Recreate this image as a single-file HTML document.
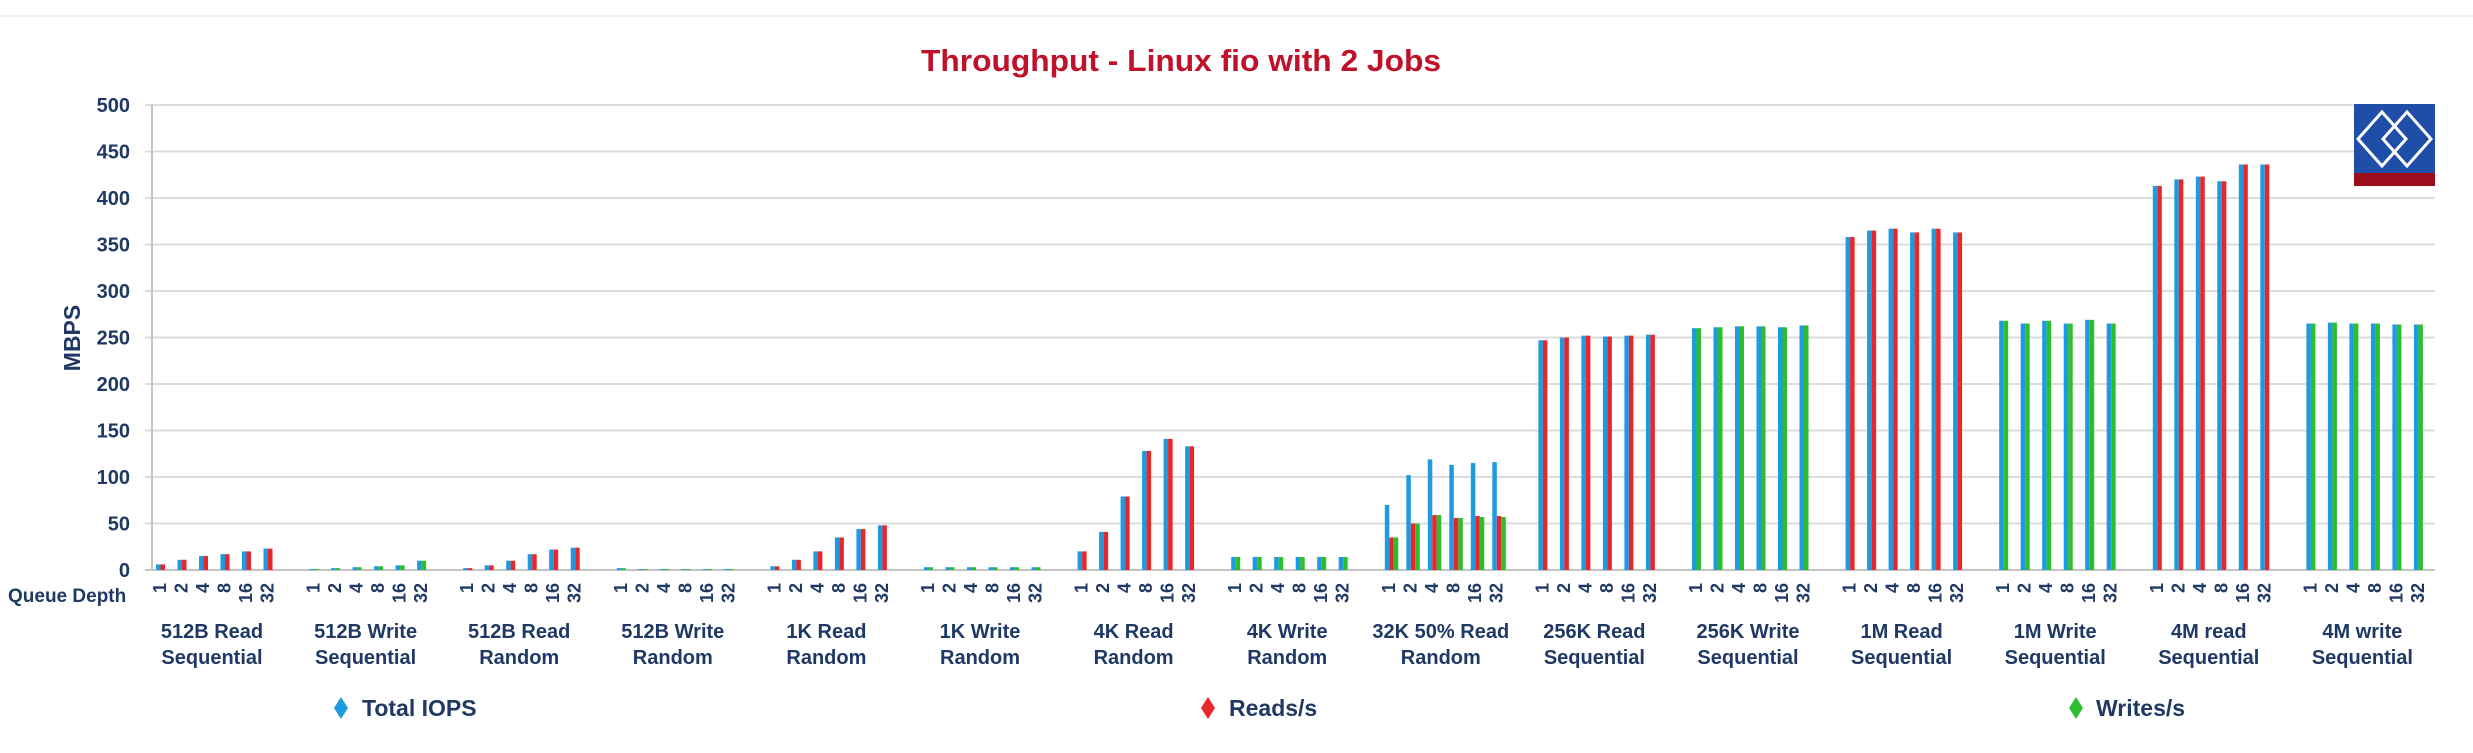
<!DOCTYPE html>
<html><head><meta charset="utf-8"><style>
html,body{margin:0;padding:0;background:#fff;}
svg text{font-family:"Liberation Sans",sans-serif;font-weight:bold;fill:#1f3864;}
</style></head><body>
<svg id="chart" width="2473" height="748" xmlns="http://www.w3.org/2000/svg">
<rect x="0" y="0" width="2473" height="748" fill="#fff"/>
<line x1="0" y1="16" x2="2473" y2="16" stroke="#f0f0f0" stroke-width="2"/>
<text x="1181" y="71" text-anchor="middle" font-size="31" style="fill:#c0102a" textLength="520" lengthAdjust="spacingAndGlyphs">Throughput - Linux fio with 2 Jobs</text>
<text transform="translate(80,338) rotate(-90)" text-anchor="middle" font-size="23">MBPS</text>
<g id="grid"></g>
<g id="bars"></g>
<g id="labels"></g>
<g>
<rect x="2354" y="104" width="81" height="70" fill="#1f4ea8"/>
<rect x="2354" y="173" width="81" height="13" fill="#9b0d1a"/>
<path d="M2382 112 L2406 139 L2382 166 L2358 139 Z M2407 112 L2431 139 L2407 166 L2383 139 Z" fill="none" stroke="#fff" stroke-width="3"/>
</g>
<g>
<g><path d="M341 697 L348 708 L341 719 L334 708 Z" fill="#1e9be0"/><text x="362" y="716" font-size="23">Total IOPS</text></g>
<g><path d="M1208 697 L1215 708 L1208 719 L1201 708 Z" fill="#e8262b"/><text x="1229" y="716" font-size="23">Reads/s</text></g>
<g><path d="M2076 697 L2083 708 L2076 719 L2069 708 Z" fill="#2dbe2d"/><text x="2096" y="716" font-size="23">Writes/s</text></g>
</g>
</svg>
<script>
const categories=[["512B Read","Sequential"],["512B Write","Sequential"],["512B Read","Random"],["512B Write","Random"],["1K Read","Random"],["1K Write","Random"],["4K Read","Random"],["4K Write","Random"],["32K 50% Read","Random"],["256K Read","Sequential"],["256K Write","Sequential"],["1M Read","Sequential"],["1M Write","Sequential"],["4M read","Sequential"],["4M write","Sequential"]];
const queueDepths=["1","2","4","8","16","32"];
const totalIops=[[6,11,15,17,20,23],[1,2,3,4,5,10],[2,5,10,17,22,24],[2,1,1,1,1,1],[4,11,20,35,44,48],[3,3,3,3,3,3],[20,41,79,128,141,133],[14,14,14,14,14,14],[70,102,119,113,115,116],[247,250,252,251,252,253],[260,261,262,262,261,263],[358,365,367,363,367,363],[268,265,268,265,269,265],[413,420,423,418,436,436],[265,266,265,265,264,264]];
const readsPerSec=[[6,11,15,17,20,23],null,[2,5,10,17,22,24],null,[4,11,20,35,44,48],null,[20,41,79,128,141,133],null,[35,50,59,56,58,58],[247,250,252,251,252,253],null,[358,365,367,363,367,363],null,[413,420,423,418,436,436],null];
const writesPerSec=[null,[1,2,3,4,5,10],null,[2,1,1,1,1,1],null,[3,3,3,3,3,3],null,[14,14,14,14,14,14],[35,50,59,56,57,57],null,[260,261,262,262,261,263],null,[268,265,268,265,269,265],null,[265,266,265,265,264,264]];
const yTicks=[0,50,100,150,200,250,300,350,400,450,500];

const NS="http://www.w3.org/2000/svg";
const X0=152,X1=2435,Y0=570,Y1=105,YMAX=500;
const y=v=>Y0-(v/YMAX)*(Y0-Y1);
const groupStart=i=>156+i*153.6;
const qdX=(i,j)=>groupStart(i)+j*21.5;
function mk(tag,attrs,parent){const e=document.createElementNS(NS,tag);for(const k in attrs)e.setAttribute(k,attrs[k]);parent.appendChild(e);return e;}
const grid=document.getElementById('grid'),bars=document.getElementById('bars'),labels=document.getElementById('labels');
yTicks.forEach(t=>{
  const l=mk('line',{x1:X0-7,x2:X1,y1:y(t),y2:y(t),stroke:t===0?'#c4c4c4':'#dcdcdc','stroke-width':2},grid);
  
  
  const tx=mk('text',{x:130,y:y(t)+7,'text-anchor':'end','font-size':20},labels);
  tx.textContent=t;
  
  
});
const ax=mk('line',{x1:X0,x2:X0,y1:Y1,y2:Y0,stroke:'#c4c4c4','stroke-width':2},grid);


const BW=4.5;
categories.forEach((c,i)=>{
  queueDepths.forEach((q,j)=>{
    const x=qdX(i,j);
    const series=[['#1e9be0',totalIops[i],'total']];
    if(readsPerSec[i])series.push(['#e8262b',readsPerSec[i],'reads']);
    if(writesPerSec[i])series.push(['#2dbe2d',writesPerSec[i],'writes']);
    series.forEach((s,k)=>{
      const v=s[1][j];
      const r=mk('rect',{x:x+k*BW,y:y(v),width:BW,height:Y0-y(v),fill:s[0]},bars);
      
      
    });
    const t=mk('text',{transform:`translate(${x+10},583) rotate(-90)`,'text-anchor':'end','font-size':18},labels);
    t.textContent=q;
    
    
  });
  const cx=groupStart(i)+56;
  const t=mk('text',{x:cx,y:638,'text-anchor':'middle','font-size':20},labels);
  
  
  const a=mk('tspan',{x:cx,y:638},t);a.textContent=c[0];
  const b=mk('tspan',{x:cx,y:664},t);b.textContent=c[1];
});
const qd=mk('text',{x:8,y:602,'font-size':19},labels);
qd.textContent='Queue Depth';


</script>
</body></html>
